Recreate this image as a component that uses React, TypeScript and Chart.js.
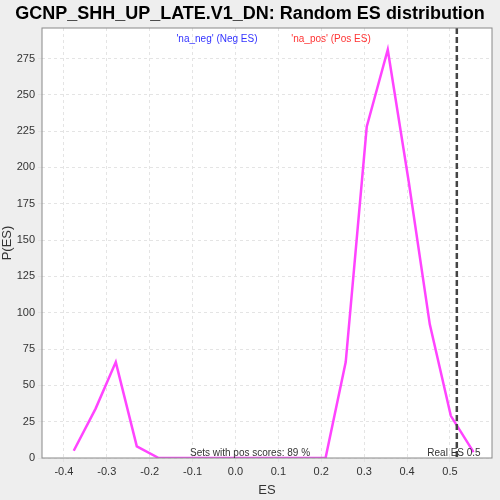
import React, { useEffect, useRef } from 'react';
import { Chart, registerables } from 'chart.js';

Chart.register(...registerables);

const esValues = [-0.377, -0.326, -0.279, -0.23, -0.179, -0.13, -0.081, -0.032, 0.017, 0.066, 0.115, 0.164, 0.21, 0.257, 0.306, 0.355, 0.404, 0.453, 0.502, 0.555];
const densities = [5, 34, 66, 8, 0, 0, 0, 0, 0, 0, 0, 0, 0, 66, 228, 281, 190, 92, 29, 4];
const realES = 0.516;
const xTicks = [-0.4, -0.3, -0.2, -0.1, 0.0, 0.1, 0.2, 0.3, 0.4, 0.5];
const yTicks = [0, 25, 50, 75, 100, 125, 150, 175, 200, 225, 250, 275];

const overlay = {
  id: 'overlay',
  beforeDraw(chart: any) {
    const { ctx, chartArea: a } = chart;
    ctx.save();
    ctx.fillStyle = '#eeeeee';
    ctx.fillRect(0, 0, chart.width, chart.height);
    ctx.fillStyle = '#ffffff';
    ctx.fillRect(a.left, a.top, a.right - a.left, a.bottom - a.top);
    ctx.restore();
  },
  afterDatasetsDraw(chart: any) {
    const { ctx, chartArea: a, scales } = chart;
    ctx.save();
    const x = scales.x.getPixelForValue(realES);
    ctx.strokeStyle = '#444444';
    ctx.lineWidth = 2.5;
    ctx.setLineDash([6, 3]);
    ctx.beginPath();
    ctx.moveTo(x, a.top);
    ctx.lineTo(x, a.bottom);
    ctx.stroke();
    ctx.setLineDash([]);
    ctx.strokeStyle = '#888888';
    ctx.lineWidth = 1;
    ctx.strokeRect(a.left, a.top, a.right - a.left, a.bottom - a.top);
    ctx.font = 'bold 18px "Liberation Sans", Arial, sans-serif';
    ctx.fillStyle = '#000';
    ctx.textAlign = 'center';
    ctx.textBaseline = 'middle';
    ctx.fillText('GCNP_SHH_UP_LATE.V1_DN: Random ES distribution', 250, 14);
    ctx.font = '10px "Liberation Sans", Arial, sans-serif';
    ctx.fillStyle = '#3333ff';
    ctx.fillText("'na_neg' (Neg ES)", 217, 39);
    ctx.fillStyle = '#ff3333';
    ctx.fillText("'na_pos' (Pos ES)", 331, 39);
    ctx.fillStyle = '#333333';
    ctx.textBaseline = 'bottom';
    ctx.fillText('Sets with pos scores: 89 %', 250, a.bottom);
    ctx.fillText('Real ES 0.5', 454, a.bottom);
    ctx.restore();
  },
};

export default function App() {
  const canvasRef = useRef<HTMLCanvasElement>(null);

  useEffect(() => {
    document.body.style.margin = '0';
    if (!canvasRef.current) return;
    const chart = new Chart(canvasRef.current, {
      type: 'line',
      data: {
        datasets: [
          {
            data: esValues.map((x, i) => ({ x, y: densities[i] })),
            borderColor: '#ff44ff',
            borderWidth: 2.5,
            pointRadius: 0,
            tension: 0,
          },
        ],
      },
      options: {
        responsive: false,
        animation: false,
        layout: { padding: { top: 28, right: 8, left: 0, bottom: 0 } },
        plugins: { legend: { display: false }, tooltip: { enabled: false } },
        scales: {
          x: {
            type: 'linear',
            min: -0.451,
            max: 0.598,
            afterFit: (s: any) => { s.height = 42; },
            afterBuildTicks: (s: any) => { s.ticks = xTicks.map((v) => ({ value: v })); },
            grid: { color: '#e4e4e4', tickLength: 4, drawTicks: true },
            border: { dash: [3, 3], display: false },
            ticks: { color: '#333', font: { family: 'Liberation Sans', size: 11 }, callback: (v: any) => Number(v).toFixed(1) },
            title: { display: true, text: 'ES', color: '#333', font: { family: 'Liberation Sans', size: 13 }, padding: 2 },
          },
          y: {
            min: 0,
            max: 296,
            afterFit: (s: any) => { s.width = 42; },
            afterBuildTicks: (s: any) => { s.ticks = yTicks.map((v) => ({ value: v })); },
            grid: { color: '#e4e4e4', tickLength: 4 },
            border: { dash: [3, 3], display: false },
            ticks: { color: '#333', font: { family: 'Liberation Sans', size: 11 } },
            title: { display: true, text: 'P(ES)', color: '#333', font: { family: 'Liberation Sans', size: 13 }, padding: 0 },
          },
        },
      },
      plugins: [overlay],
    });
    return () => chart.destroy();
  }, []);

  return <canvas ref={canvasRef} width={500} height={500} style={{ display: 'block' }} />;
}
